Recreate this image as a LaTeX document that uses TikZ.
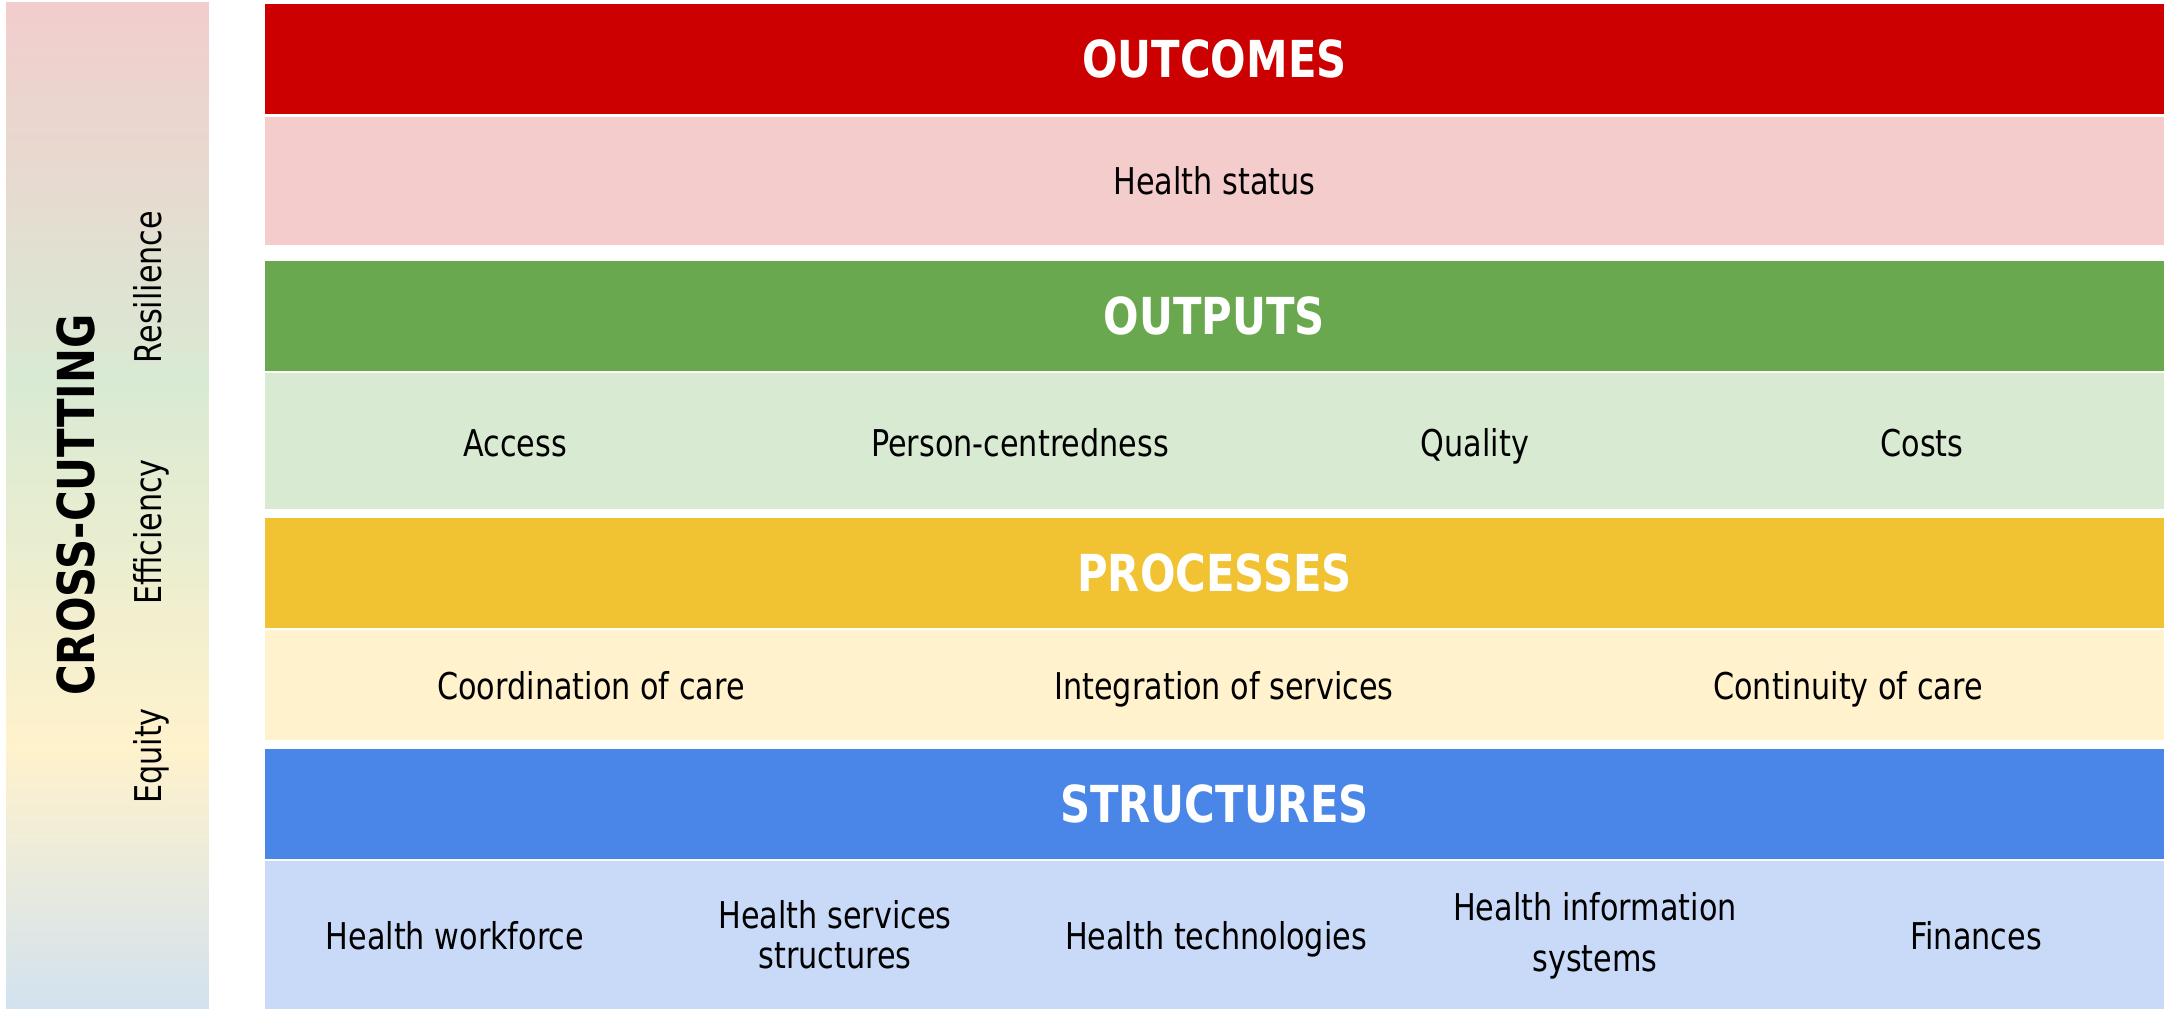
\documentclass[tikz,border=0pt]{standalone}
\usepackage{fontspec}
\setmainfont{DejaVu Sans}[FakeStretch=0.82]
\usepackage{xcolor}
\definecolor{outred}{HTML}{CC0000}
\definecolor{outpink}{HTML}{F4CCCC}
\definecolor{putgreen}{HTML}{6AA84F}
\definecolor{putlight}{HTML}{D9EAD3}
\definecolor{procyellow}{HTML}{F1C232}
\definecolor{proclight}{HTML}{FFF2CC}
\definecolor{structblue}{HTML}{4A86E8}
\definecolor{structlight}{HTML}{C9DAF8}
\definecolor{crossblue}{HTML}{D2E2EF}
\definecolor{crosspink}{HTML}{F2CDCD}
\usepackage{tikz}

\pgfdeclareverticalshading{crosscut}{100bp}{color(0bp)=(crossblue); color(25bp)=(crossblue); color(38bp)=(proclight); color(56bp)=(putlight); color(75bp)=(crosspink); color(100bp)=(crosspink)}

\tikzset{
  band/.style={minimum width=37.98cm, inner sep=0pt, outer sep=0pt},
  headtext/.style={text=white, font=\fontsize{29}{32}\selectfont\bfseries},
  itemtext/.style={align=center, font=\fontsize{21}{23}\selectfont},
  linetext/.style={itemtext, text height=0.76em, text depth=0.24em},
  sidetext/.style={rotate=90, anchor=base, font=\fontsize{21}{23}\selectfont}
}

\begin{document}
\begin{tikzpicture}[x=0.02cm, y=-0.02cm]
  \useasboundingbox (0,0) rectangle (2164,1009);

  % cross-cutting bar
  \node[shade, shading=crosscut, minimum width=4.06cm, minimum height=20.14cm, inner sep=0pt] (crossbar) at (107.5,505.5) {};
  \node[sidetext, font=\fontsize{29}{32}\selectfont\bfseries] (crosstitle) at (94,505) {CROSS-CUTTING};
  \foreach \name/\lab/\ypos in {resilience/Resilience/287, efficiency/Efficiency/532, equity/Equity/756}
    \node[sidetext] (\name) at (161,\ypos) {\lab};

  % header bands
  \foreach \name/\col/\lab/\ypos in {outcomes/outred/OUTCOMES/59, outputs/putgreen/OUTPUTS/316, processes/procyellow/PROCESSES/573, structures/structblue/STRUCTURES/804}
    \node[band, headtext, fill=\col, minimum height=2.2cm] (\name) at (1214.5,\ypos) {\lab};

  % content bands
  \foreach \name/\col/\ypos/\bandh in {outcomerow/outpink/181/2.56, outputrow/putlight/441/2.72, processrow/proclight/685/2.2, structrow/structlight/935/2.96}
    \node[band, fill=\col, minimum height=\bandh cm] (\name) at (1214.5,\ypos) {};

  % items
  \foreach \name/\lab/\xpos/\ypos in {status/Health status/1214.5/190,
      access/Access/515/452, centred/Person-centredness/1020/452, quality/Quality/1475/452, costs/Costs/1922/452,
      coordination/Coordination of care/591/695, integration/Integration of services/1224/695, continuity/Continuity of care/1848/695,
      workforce/Health workforce/455/945, technologies/Health technologies/1216/945, finances/Finances/1976/945}
    \node[linetext] (\name) at (\xpos,\ypos) {\lab};
  \node[itemtext] (services) at (835,935) {Health services\\structures};
  \node[itemtext] (information) at (1595,936) {Health information\\[6pt]systems};
\end{tikzpicture}
\end{document}
